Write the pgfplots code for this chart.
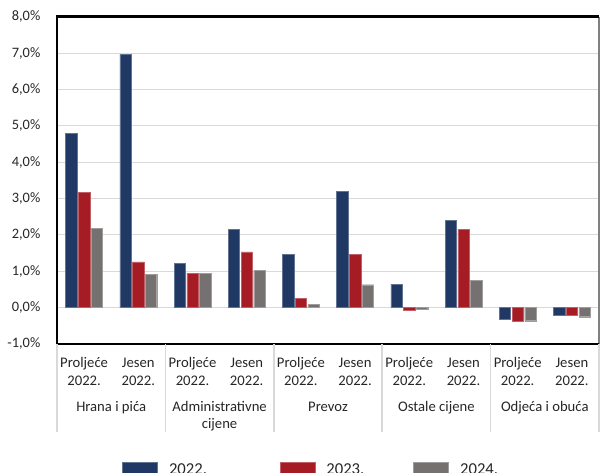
\documentclass[border=0pt]{standalone}
\usepackage{pgfplots}
\pgfplotsset{compat=1.18}
\usepackage{fontspec}
\setmainfont{Carlito}

\definecolor{c22}{HTML}{1F3864}
\definecolor{c23}{HTML}{A51C24}
\definecolor{c24}{HTML}{767171}
\definecolor{gridc}{HTML}{D9D9D9}

\newcommand{\PR}{\strut Proljeće\\2022.}
\newcommand{\JS}{\strut Jesen\\2022.}
\tikzset{grp/.style={anchor=north, align=center, font=\fontsize{11}{12.5}\selectfont, text=black!85}}

\begin{document}
\begin{tikzpicture}
\path[use as bounding box, clip] (0pt,0pt) rectangle (450pt,354pt);
\begin{axis}[
    at={(42.75pt,96pt)}, anchor=south west,
    scale only axis, width=406.5pt, height=245.5pt,
    ymin=-1, ymax=8, ytick={-1,0,...,8},
    xmin=-0.5, xmax=9.5, xtick={0,...,9},
    xticklabels={{\PR},{\JS},{\PR},{\JS},{\PR},{\JS},{\PR},{\JS},{\PR},{\JS}},
    xticklabel style={align=center, font=\fontsize{11}{13.5}\selectfont, text=black!85, yshift=-4.5pt},
    /pgf/number format/assume math mode=true,
    yticklabel={\pgfmathprintnumber[fixed,fixed zerofill,precision=1,use comma]{\tick}\%},
    yticklabel style={font=\fontsize{10.8}{12}\selectfont, text=black!85, xshift=-9pt},
    major tick length=0pt,
    axis line style={draw=none},
    ymajorgrids, grid style={gridc, line width=0.8pt},
    ybar=1pt, bar width=0.21,
    clip=false,
    legend columns=3,
    legend style={draw=none, at={(0,0)}, anchor=north west, xshift=48.75pt, yshift=-87.25pt,
        inner sep=0pt, font=\fontsize{12.5}{14}\selectfont, text=black!85,
        /tikz/every odd column/.append style={column sep=6.5pt}},
    legend image code/.code={\fill[#1] (0pt,-8pt) rectangle (26.25pt,5.5pt);},
]
\addplot[fill=c22, draw=c22!70!white, line width=0.3pt] coordinates {
    (0,4.79)(1,6.97)(2,1.22)(3,2.15)(4,1.46)(5,3.20)(6,0.64)(7,2.40)(8,-0.33)(9,-0.22)};
\addlegendentry{\makebox[81pt][l]{2022.}}
\addplot[fill=c23, draw=c23!70!white, line width=0.3pt] coordinates {
    (0,3.17)(1,1.26)(2,0.95)(3,1.53)(4,0.25)(5,1.46)(6,-0.06)(7,2.15)(8,-0.37)(9,-0.22)};
\addlegendentry{\makebox[63.25pt][l]{2023.}}
\addplot[fill=c24, draw=c24!70!white, line width=0.3pt] coordinates {
    (0,2.18)(1,0.91)(2,0.94)(3,1.02)(4,0.09)(5,0.63)(6,-0.05)(7,0.75)(8,-0.36)(9,-0.25)};
\addlegendentry{2024.}

% frame
\draw[black!50, line width=1pt] (rel axis cs:1,0) -- (rel axis cs:1,1);
\draw[black, line width=2pt] (rel axis cs:1,1) -- (rel axis cs:0,1) -- (rel axis cs:0,0) -- (rel axis cs:1,0);

% group separators
\pgfplotsinvokeforeach{-0.5,1.5,3.5,5.5,7.5,9.5}{
    \draw[gridc, line width=1.1pt] (axis cs:#1,-1) -- ++(0pt,-66pt);
}

% group labels
\node[grp] at ([yshift=-38.5pt]axis cs:0.5,-1) {\strut Hrana i pića};
\node[grp] at ([yshift=-38.5pt]axis cs:2.5,-1) {\strut Administrativne\\cijene};
\node[grp] at ([yshift=-38.5pt]axis cs:4.5,-1) {\strut Prevoz};
\node[grp] at ([yshift=-38.5pt]axis cs:6.5,-1) {\strut Ostale cijene};
\node[grp] at ([yshift=-38.5pt]axis cs:8.5,-1) {\strut Odjeća i obuća};
\end{axis}
\end{tikzpicture}
\end{document}
